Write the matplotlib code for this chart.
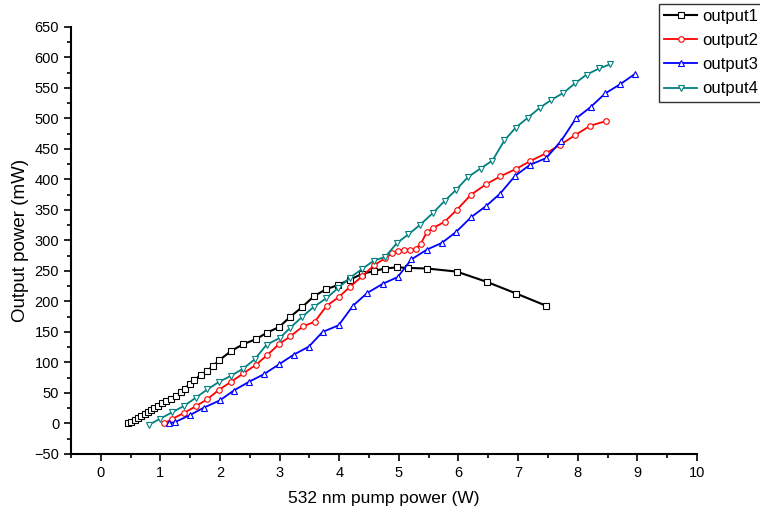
import matplotlib.pyplot as plt
from matplotlib.ticker import MultipleLocator

plt.rcParams['font.family'] = ['Liberation Sans', 'DejaVu Sans']

# output1 (black squares)
x1 = [0.46, 0.51, 0.57, 0.63, 0.68, 0.74, 0.79, 0.85, 0.9, 0.96, 1.03, 1.1, 1.17, 1.26, 1.34,
      1.41, 1.49, 1.57, 1.68, 1.78, 1.88, 1.99, 2.19, 2.39, 2.6, 2.79, 2.99, 3.18, 3.38, 3.58,
      3.78, 3.98, 4.18, 4.38, 4.58, 4.77, 4.97, 5.16, 5.48, 5.97, 6.48, 6.97, 7.47]
y1 = [0, 3, 6, 9, 12, 16, 19, 22, 26, 29, 34, 37, 40, 45, 51, 57, 65, 71, 80, 86, 94, 104,
      119, 130, 138, 149, 158, 175, 191, 209, 220, 227, 236, 245, 250, 254, 256, 255, 254,
      249, 232, 213, 193]

# output2 (red circles)
x2 = [1.06, 1.19, 1.39, 1.59, 1.79, 1.98, 2.18, 2.39, 2.6, 2.79, 2.99, 3.18, 3.39, 3.59, 3.79,
      3.99, 4.18, 4.38, 4.58, 4.77, 4.89, 4.98, 5.08, 5.19, 5.28, 5.37, 5.47, 5.57, 5.77, 5.97,
      6.21, 6.46, 6.7, 6.96, 7.2, 7.47, 7.71, 7.96, 8.21, 8.48]
y2 = [0, 7, 17, 28, 40, 55, 68, 82, 96, 112, 130, 143, 159, 167, 193, 207, 224, 241, 259, 271,
      279, 283, 285, 285, 286, 295, 314, 320, 331, 350, 375, 392, 405, 417, 430, 443, 457, 473,
      488, 496]

# output3 (blue triangles)
x3 = [1.14, 1.24, 1.5, 1.73, 2.0, 2.23, 2.48, 2.74, 2.99, 3.24, 3.49, 3.72, 3.99, 4.23, 4.47,
      4.73, 4.98, 5.21, 5.47, 5.72, 5.96, 6.21, 6.47, 6.7, 6.95, 7.2, 7.47, 7.72, 7.97, 8.22,
      8.46, 8.71, 8.96]
y3 = [0, 2, 14, 26, 38, 54, 68, 81, 97, 113, 126, 150, 161, 193, 214, 229, 240, 269, 285, 296,
      314, 338, 357, 377, 406, 424, 435, 463, 500, 519, 541, 556, 573]

# output4 (teal down triangles)
x4 = [0.81, 1.0, 1.19, 1.4, 1.59, 1.79, 1.98, 2.18, 2.39, 2.58, 2.78, 3.0, 3.18, 3.38, 3.57,
      3.78, 3.98, 4.18, 4.38, 4.58, 4.77, 4.97, 5.16, 5.36, 5.57, 5.77, 5.96, 6.16, 6.37, 6.57,
      6.77, 6.96, 7.16, 7.37, 7.55, 7.76, 7.96, 8.15, 8.36, 8.55]
y4 = [-2, 8, 18, 29, 42, 56, 68, 78, 90, 105, 129, 140, 157, 175, 191, 205, 222, 239, 253, 267,
      273, 296, 310, 326, 345, 365, 383, 404, 418, 431, 464, 485, 501, 518, 530, 542, 558, 572,
      582, 589]

fig = plt.figure(figsize=(7.6, 5.17), dpi=100)
ax = fig.add_axes([0.0934, 0.1219, 0.8236, 0.8259])

ax.plot(x1, y1, color='black', lw=1.5, marker='s', ms=4, mfc='white', mew=0.8, label='output1')
ax.plot(x2, y2, color='red', lw=1.3, marker='o', ms=4, mfc='white', mew=0.8, label='output2')
ax.plot(x3, y3, color='blue', lw=1.3, marker='^', ms=5, mfc='white', mew=0.8, label='output3')
ax.plot(x4, y4, color='#008080', lw=1.3, marker='v', ms=5, mfc='white', mew=0.8, label='output4')

ax.set_xlim(-0.5, 10)
ax.set_ylim(-50, 650)
ax.xaxis.set_major_locator(MultipleLocator(1))
ax.xaxis.set_minor_locator(MultipleLocator(0.5))
ax.yaxis.set_major_locator(MultipleLocator(50))
ax.yaxis.set_minor_locator(MultipleLocator(25))
ax.spines['top'].set_visible(False)
ax.spines['right'].set_visible(False)
ax.spines['left'].set_linewidth(1.5)
ax.spines['bottom'].set_linewidth(1.5)
ax.tick_params(which='major', direction='out', length=5, width=1.2, labelsize=10.5)
ax.tick_params(which='minor', direction='out', length=3, width=1.2)

ax.set_xlabel('532 nm pump power (W)', fontsize=12.5, labelpad=8)
ax.set_ylabel('Output power (mW)', fontsize=13.5, labelpad=4)

leg = fig.legend(loc='upper left', bbox_to_anchor=(659 / 760, 1 - 4 / 517),
                 prop={'family': ['Liberation Sans Narrow', 'Liberation Sans'], 'size': 12},
                 frameon=True, fancybox=False, edgecolor='black', borderpad=0.3,
                 labelspacing=0.55, handlelength=2.0, handletextpad=0.3, borderaxespad=0)
leg.get_frame().set_linewidth(1.0)

fig.savefig('out.png', dpi=100)
